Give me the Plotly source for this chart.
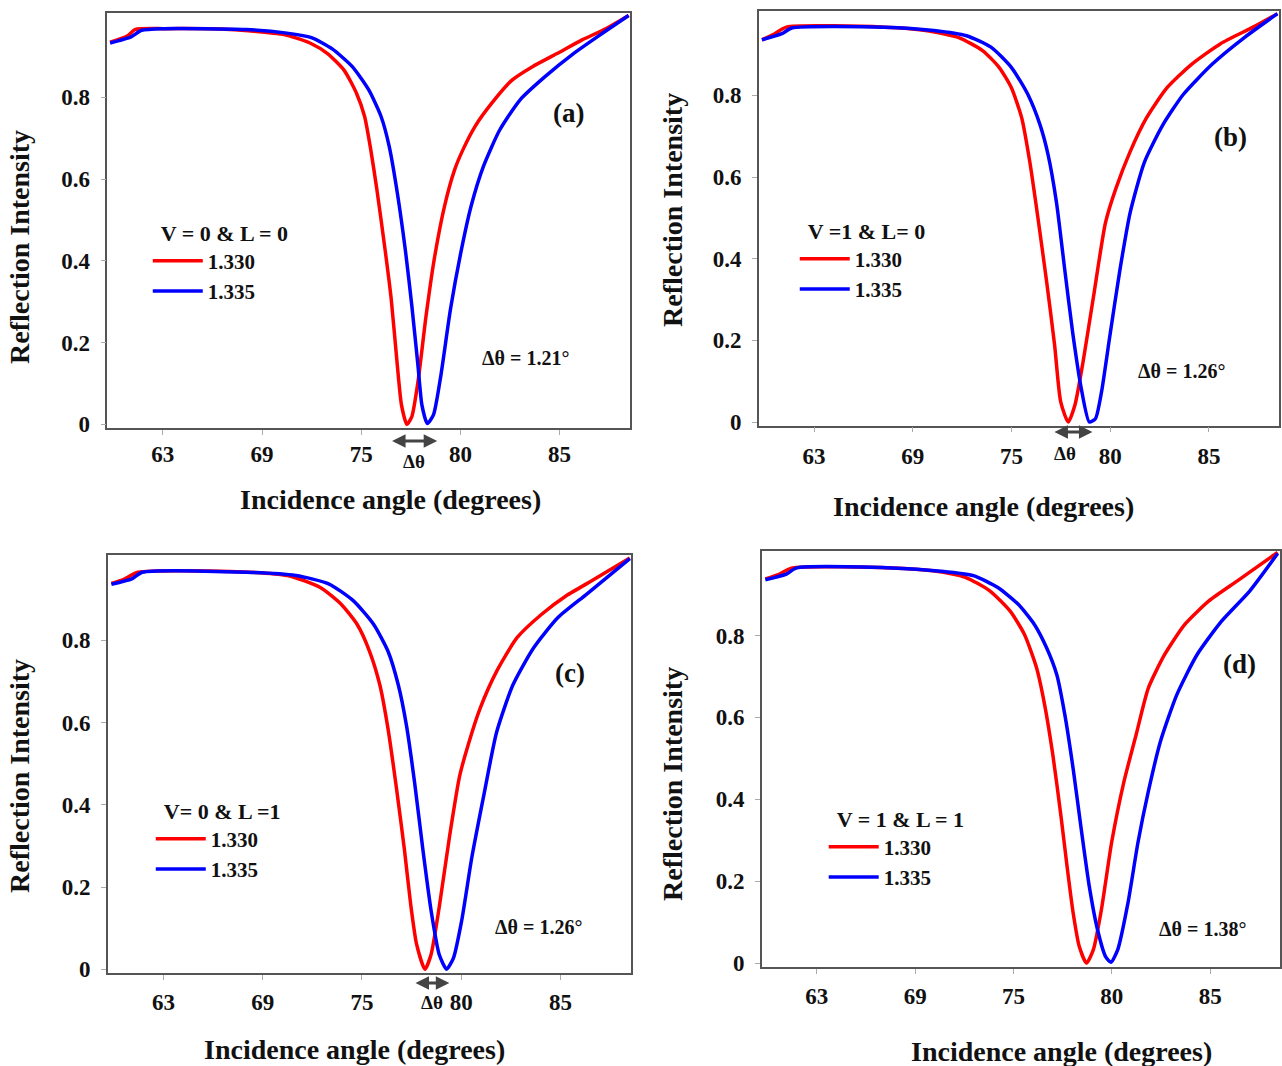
import plotly.graph_objects as go

# ---------------- data ----------------
ANGLE_TICKS = [65, 70, 75, 80, 85]
ANGLE_TICK_LABELS = ["63", "69", "75", "80", "85"]
INTENSITY_TICKS = [0, 0.2, 0.4, 0.6, 0.8]
INTENSITY_TICK_LABELS = ["0", "0.2", "0.4", "0.6", "0.8"]

PANEL_LABELS = ["(a)", "(b)", "(c)", "(d)"]
CONDITIONS = ["V = 0 & L = 0", "V =1 & L= 0", "V= 0 & L =1", "V = 1 & L = 1"]
DELTA_LABELS = ["Δθ = 1.21°", "Δθ = 1.26°", "Δθ = 1.26°", "Δθ = 1.38°"]
SERIES_NAMES = ["1.330", "1.335"]

a_red_x = [62.34, 63.2, 63.62, 65.06, 68.36, 71.25, 72.49, 73.3, 74.14, 74.76, 75.17, 75.48, 75.79, 76.2,
           76.51, 76.82, 77.03, 77.3, 77.55, 77.86, 78.27, 78.68, 79.2, 79.71, 80.13, 80.74, 81.57, 82.6,
           83.63, 84.87, 86.11, 87.35, 88.48]
a_red_y = [0.935, 0.95, 0.966, 0.968, 0.966, 0.952, 0.931, 0.907, 0.866, 0.81, 0.753, 0.672, 0.574, 0.428,
           0.307, 0.144, 0.047, 0.0, 0.019, 0.104, 0.266, 0.404, 0.534, 0.623, 0.672, 0.729, 0.785, 0.842,
           0.875, 0.907, 0.94, 0.968, 1.0]
a_blue_x = [62.34, 63.4, 63.93, 65.06, 69.19, 71.25, 72.49, 73.52, 74.55, 75.38, 76.0, 76.41, 76.82, 77.24,
            77.55, 77.86, 78.06, 78.33, 78.64, 78.99, 79.5, 80.02, 80.54, 81.16, 81.98, 83.01, 84.25, 85.7,
            87.14, 88.48]
a_blue_y = [0.933, 0.948, 0.964, 0.968, 0.966, 0.957, 0.946, 0.919, 0.875, 0.818, 0.753, 0.68, 0.566, 0.42,
            0.29, 0.144, 0.047, 0.002, 0.023, 0.112, 0.282, 0.42, 0.534, 0.631, 0.72, 0.794, 0.85, 0.907,
            0.956, 1.0]

b_red_x = [62.36, 62.9, 63.6, 68.57, 70.65, 72.3, 73.55, 74.38, 75.0, 75.52, 75.93, 76.35, 76.77, 77.18,
           77.49, 77.87, 78.21, 78.63, 79.15, 79.76, 80.28, 81.0, 81.83, 82.87, 84.12, 85.57, 87.23, 88.47]
b_red_y = [0.936, 0.948, 0.967, 0.967, 0.959, 0.942, 0.909, 0.868, 0.818, 0.744, 0.636, 0.496, 0.347, 0.19,
           0.05, 0.0, 0.041, 0.149, 0.306, 0.488, 0.571, 0.661, 0.744, 0.818, 0.876, 0.926, 0.967, 1.0]
b_blue_x = [62.36, 63.37, 63.87, 68.57, 71.07, 72.72, 73.96, 75.0, 75.83, 76.45, 76.86, 77.28, 77.7, 78.11,
            78.53, 78.94, 79.25, 79.56, 79.97, 80.49, 81.01, 81.73, 82.66, 83.7, 85.16, 86.81, 88.47]
b_blue_y = [0.936, 0.951, 0.965, 0.967, 0.959, 0.946, 0.918, 0.868, 0.802, 0.727, 0.653, 0.537, 0.372, 0.215,
            0.083, 0.0, 0.008, 0.074, 0.207, 0.372, 0.513, 0.636, 0.727, 0.802, 0.876, 0.942, 1.0]

c_red_x = [62.38, 63.0, 63.72, 68.36, 71.25, 72.9, 73.94, 74.76, 75.38, 75.9, 76.31, 76.72, 77.14, 77.45,
           77.75, 78.17, 78.48, 78.89, 79.41, 79.92, 80.34, 80.95, 81.78, 82.81, 84.05, 85.29, 86.74, 88.49]
c_red_y = [0.938, 0.948, 0.965, 0.967, 0.957, 0.928, 0.888, 0.838, 0.773, 0.691, 0.585, 0.446, 0.29, 0.159,
           0.061, 0.0, 0.036, 0.151, 0.323, 0.47, 0.544, 0.634, 0.724, 0.806, 0.863, 0.908, 0.949, 1.0]
c_blue_x = [62.38, 63.41, 63.93, 69.2, 71.67, 73.32, 74.56, 75.59, 76.31, 76.83, 77.24, 77.65, 78.07, 78.48,
            78.89, 79.26, 79.61, 80.02, 80.54, 81.16, 81.78, 82.6, 83.64, 84.87, 86.32, 88.49]
c_blue_y = [0.936, 0.949, 0.965, 0.965, 0.957, 0.937, 0.896, 0.838, 0.773, 0.691, 0.593, 0.454, 0.29, 0.143,
            0.036, 0.0, 0.028, 0.118, 0.274, 0.429, 0.576, 0.691, 0.781, 0.855, 0.912, 0.998]

d_red_x = [62.38, 63.0, 63.76, 68.83, 70.89, 72.55, 73.79, 74.82, 75.55, 76.17, 76.58, 77.0, 77.41, 77.72,
           78.03, 78.34, 78.71, 79.06, 79.47, 79.99, 80.61, 81.23, 81.85, 82.68, 83.71, 84.95, 86.4, 88.43]
d_red_y = [0.938, 0.948, 0.965, 0.965, 0.958, 0.942, 0.909, 0.86, 0.803, 0.721, 0.631, 0.508, 0.36, 0.237,
           0.123, 0.041, 0.0, 0.033, 0.131, 0.295, 0.442, 0.557, 0.671, 0.753, 0.827, 0.885, 0.934, 1.003]
d_blue_x = [62.38, 63.45, 63.97, 68.83, 71.31, 72.96, 74.2, 75.24, 76.06, 76.68, 77.2, 77.61, 78.03, 78.44,
            78.85, 79.27, 79.68, 79.95, 80.3, 80.82, 81.33, 81.85, 82.47, 83.3, 84.33, 85.58, 87.02, 88.43]
d_blue_y = [0.936, 0.95, 0.965, 0.965, 0.957, 0.946, 0.917, 0.876, 0.827, 0.77, 0.704, 0.606, 0.475, 0.328,
            0.188, 0.082, 0.016, 0.002, 0.033, 0.147, 0.295, 0.418, 0.541, 0.655, 0.753, 0.835, 0.909, 1.0]

# delta-theta arrow extents (degrees) under panels a, b, c
arrow_from = [76.48, 77.1, 77.62, None]
arrow_to = [78.83, 79.1, 79.4, None]

# ---------------- layout constants ----------------
REF_W, REF_H = 1282, 1066          # target picture size (positions below are in these pixels)
W, H = 1282, 1075                  # page size; the capture is fitted to REF_H
FONT = "Liberation Serif"
INK = "#111111"
RED = "rgb(255,0,0)"
BLUE = "rgb(0,0,255)"
NB = "\u00a0\u00a0"


def px(x):
    return x / REF_W


def py(y):
    return 1 - y / REF_H


# plot boxes in pixels: left, right, top, bottom
boxes = [(107.5, 631, 12.7, 428), (760, 1281, 10.8, 425.7),
         (108, 632, 555, 973), (763, 1282, 550.7, 966.8)]
x_titles = [(391, 499), (985, 506), (355, 1049), (1063, 1051)]
y_titles = [(20, 247), (673, 210), (19, 776), (673, 784)]
panel_pos = [(569, 113), (1232, 137), (571, 673), (1241, 664)]
delta_pos = [(526, 358), (1183, 371), (539, 927), (1204, 929)]
legend_pos = [(148, 212), (796, 210), (151, 790), (825, 798)]
x_label_standoff = [0, 4, 3, 3]
arrow_y = [441, 432, 983, None]
arrow_lbl = [(415, 461), (1067, 453), (433, 1002), None]

series = [
    (a_red_x, a_red_y, a_blue_x, a_blue_y),
    (b_red_x, b_red_y, b_blue_x, b_blue_y),
    (c_red_x, c_red_y, c_blue_x, c_blue_y),
    (d_red_x, d_red_y, d_blue_x, d_blue_y),
]

fig = go.Figure()
annotations = []


def text_note(text, pos, size, angle=0):
    return dict(text=text, x=px(pos[0]), y=py(pos[1]), xref="paper", yref="paper",
                xanchor="center", yanchor="middle", showarrow=False, textangle=angle,
                font=dict(family=FONT, size=size, color=INK, weight="bold"))


for i, (rx, ry, bx, by) in enumerate(series):
    n = "" if i == 0 else str(i + 1)
    xa, ya = "x" + n, "y" + n
    leg = "legend" + n
    fig.add_trace(go.Scatter(x=rx, y=ry, mode="lines", name=SERIES_NAMES[0], xaxis=xa, yaxis=ya,
                             legend=leg, line=dict(color=RED, width=3.5, shape="spline", smoothing=0.6)))
    fig.add_trace(go.Scatter(x=bx, y=by, mode="lines", name=SERIES_NAMES[1], xaxis=xa, yaxis=ya,
                             legend=leg, line=dict(color=BLUE, width=3.5, shape="spline", smoothing=0.6)))

    l, r, t, b = boxes[i]
    axis_common = dict(showline=True, mirror=True, linecolor="#555555", linewidth=1.5,
                       ticks="outside", ticklen=5, tickcolor="#aaaaaa", tickwidth=1,
                       showgrid=False, zeroline=False,
                       tickfont=dict(family=FONT, size=23, color=INK, weight="bold"))
    fig.update_layout(**{
        "xaxis" + n: dict(domain=[px(l), px(r)], range=[62.2, 88.55], anchor=ya,
                          tickvals=ANGLE_TICKS, ticktext=ANGLE_TICK_LABELS,
                          ticklabelstandoff=x_label_standoff[i], **axis_common),
        "yaxis" + n: dict(domain=[py(b), py(t)], range=[-0.009, 1.007], anchor=xa,
                          tickvals=INTENSITY_TICKS, ticktext=INTENSITY_TICK_LABELS, ticklabelstandoff=6,
                          **axis_common),
        leg: dict(x=px(legend_pos[i][0]), y=py(legend_pos[i][1]), xanchor="left", yanchor="top",
                  bgcolor="rgba(0,0,0,0)", itemwidth=50,
                  title=dict(text=NB + CONDITIONS[i], side="top",
                             font=dict(family=FONT, size=22, color=INK, weight="bold")),
                  font=dict(family=FONT, size=21, color=INK, weight="bold")),
    })

    annotations.append(text_note("Incidence angle (degrees)", x_titles[i], 28))
    annotations.append(text_note("Reflection Intensity", y_titles[i], 28, -90))
    annotations.append(text_note(PANEL_LABELS[i], panel_pos[i], 27))
    annotations.append(text_note(DELTA_LABELS[i], delta_pos[i], 20))
    if arrow_from[i] is not None:
        annotations.append(dict(text="", x=arrow_to[i], y=py(arrow_y[i]), xref=xa, yref="paper",
                                ax=arrow_from[i], ay=0, axref=xa, ayref="pixel",
                                showarrow=True, arrowhead=2, startarrowhead=2, arrowside="end+start",
                                arrowsize=0.9, startarrowsize=0.9, arrowwidth=3, arrowcolor="#444444"))
        annotations.append(text_note("Δθ", arrow_lbl[i], 19))

fig.update_layout(width=W, height=H, margin=dict(l=0, r=0, t=0, b=0),
                  paper_bgcolor="white", plot_bgcolor="white",
                  annotations=annotations, showlegend=True)

page_fix = (
    "var de=document.documentElement, bd=document.body;"
    "de.style.margin='0';de.style.padding='0';de.style.overflow='hidden';"
    "bd.style.margin='0';bd.style.padding='0';bd.style.overflow='hidden';"
)
fig.write_html("out.html", config={"displayModeBar": False}, post_script=page_fix)
